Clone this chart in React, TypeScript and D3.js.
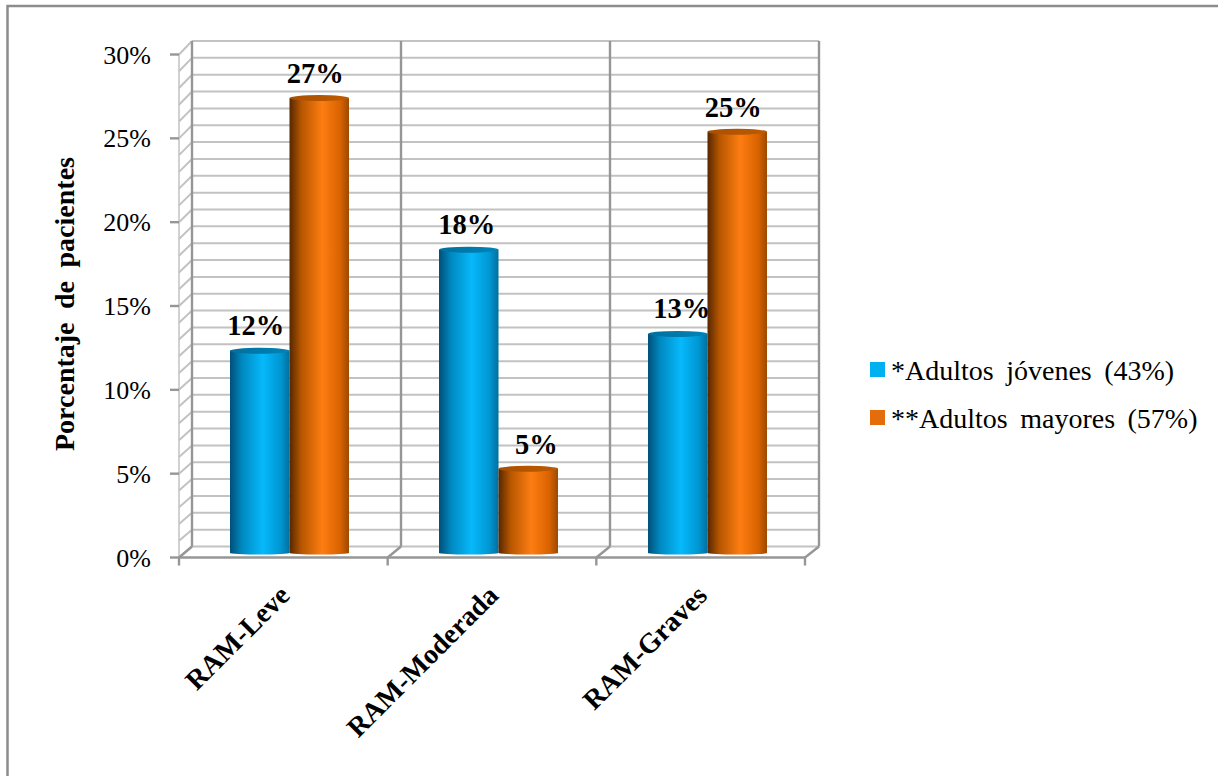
import React from "react";
import * as d3 from "d3";

const categories = ["RAM-Leve", "RAM-Moderada", "RAM-Graves"];
const youngValues = [12, 18, 13];
const olderValues = [27, 5, 25];
const seriesNames = ["*Adultos jóvenes (43%)", "**Adultos mayores (57%)"];
const axisTicks = [0, 5, 10, 15, 20, 25, 30];
const gridValues = d3.range(0, 31);
const serif = "'Liberation Serif', 'Times New Roman', serif";

const W = 1218, H = 776;
const yFront = d3.scaleLinear().domain([0, 30]).range([557.5, 54.5]);
const yBack = d3.scaleLinear().domain([0, 30]).range([546.5, 41]);
const yBar = d3.scaleLinear().domain([0, 30]).range([553, 47.5]);
const xFront = d3.scaleBand<number>().domain([0, 1, 2]).range([179, 805]);
const xBack = d3.scaleBand<number>().domain([0, 1, 2]).range([192, 819]);
const barW = 59.5;
const youngLabelShift = [-4, -2, 4];
const olderLabelShift = [-4, 8, -4];

function Cyl({ x, v, fill }: { x: number; v: number; fill: string }) {
  const top = yBar(v), bot = yBar(0), rx = barW / 2, ry = 3;
  return (
    <g>
      <path
        d={`M${x},${top} L${x},${bot} A${rx},1.5 0 0 0 ${x + barW},${bot} L${x + barW},${top} Z`}
        fill={`url(#${fill})`}
      />
      <ellipse cx={x + rx} cy={top} rx={rx} ry={ry} fill={`url(#${fill}Top)`} />
    </g>
  );
}

export default function App() {
  const grid = "#c2c2c2", axis = "#969696";
  return (
    <svg width={W} height={H} style={{ position: "absolute", left: 0, top: 0, background: "#fff" }}>
      <defs>
        <linearGradient id="blue">
          <stop offset="0" stopColor="#004f78" />
          <stop offset="0.2" stopColor="#0088c0" />
          <stop offset="0.55" stopColor="#06b9fb" />
          <stop offset="0.85" stopColor="#0096d2" />
          <stop offset="1" stopColor="#006f9e" />
        </linearGradient>
        <linearGradient id="orange">
          <stop offset="0" stopColor="#562700" />
          <stop offset="0.2" stopColor="#b65600" />
          <stop offset="0.55" stopColor="#fd7d12" />
          <stop offset="0.85" stopColor="#d96300" />
          <stop offset="1" stopColor="#9c4a00" />
        </linearGradient>
        <linearGradient id="blueTop">
          <stop offset="0" stopColor="#006f9e" />
          <stop offset="1" stopColor="#0084b8" />
        </linearGradient>
        <linearGradient id="orangeTop">
          <stop offset="0" stopColor="#a85000" />
          <stop offset="1" stopColor="#bf5a00" />
        </linearGradient>
      </defs>

      <path d="M7.5,776 L7.5,6 L1218,6" fill="none" stroke="#8c8c8c" strokeWidth={2.5} />

      {gridValues.map((v) => (
        <g key={v} stroke={grid} strokeWidth={2}>
          <line x1={192} x2={819} y1={yBack(v)} y2={yBack(v)} />
          <line x1={179} x2={192} y1={yFront(v)} y2={yBack(v)} />
        </g>
      ))}
      <line x1={179} x2={179} y1={yFront(30)} y2={yFront(0)} stroke={grid} strokeWidth={1.5} />
      {[0, 1, 2, 3].map((i) => {
        const xb = 192 + i * xBack.step();
        const xf = 179 + i * xFront.step();
        return (
          <g key={i} stroke={axis} strokeWidth={2.4}>
            <line x1={xb} x2={xb} y1={yBack(30)} y2={yBack(0)} stroke={axis} />
            <line x1={xf} x2={xb} y1={yFront(0)} y2={yBack(0)} />
            <line x1={xf} x2={xf} y1={yFront(0)} y2={yFront(0) + 8} />
          </g>
        );
      })}
      <line x1={179} x2={805} y1={yFront(0)} y2={yFront(0)} stroke={axis} strokeWidth={2.4} />

      {axisTicks.map((t) => (
        <g key={t}>
          <line x1={170} x2={179} y1={yFront(t)} y2={yFront(t)} stroke={axis} strokeWidth={2.4} />
          <text x={151} y={yFront(t) + 9} textAnchor="end" fontFamily={serif} fontSize={26} fill="#000">
            {t}%
          </text>
        </g>
      ))}

      {categories.map((c, i) => {
        const x0 = 230 + i * xBack.step();
        const xy = x0, xo = x0 + barW;
        return (
          <g key={c}>
            <Cyl x={xy} v={youngValues[i]} fill="blue" />
            <Cyl x={xo} v={olderValues[i]} fill="orange" />
            <text x={xy + barW / 2 + youngLabelShift[i]} y={yBar(youngValues[i]) - 16} textAnchor="middle" fontFamily={serif} fontWeight="bold" fontSize={28.5} fill="#000">
              {youngValues[i]}%
            </text>
            <text x={xo + barW / 2 + olderLabelShift[i]} y={yBar(olderValues[i]) - 15} textAnchor="middle" fontFamily={serif} fontWeight="bold" fontSize={28.5} fill="#000">
              {olderValues[i]}%
            </text>
            <text
              transform={`translate(${(xFront(i) as number) + xFront.bandwidth() / 2 + 8},${597}) rotate(-45)`}
              textAnchor="end"
              fontFamily={serif}
              fontWeight="bold"
              fontSize={28}
              fill="#000"
            >
              {c}
            </text>
          </g>
        );
      })}

      <text
        transform="translate(74,304) rotate(-90)"
        textAnchor="middle"
        fontFamily={serif}
        fontWeight="bold"
        fontSize={28}
        wordSpacing={6.5}
        fill="#000"
      >
        Porcentaje de pacientes
      </text>

      {seriesNames.map((s, i) => (
        <g key={s}>
          <rect x={870} y={362 + i * 48} width={15} height={15} fill={i === 0 ? "#00b0f0" : "#e46c0a"} />
          <text x={891} y={380 + i * 48} fontFamily={serif} fontSize={28} wordSpacing={5.5} fill="#000">
            {s}
          </text>
        </g>
      ))}
    </svg>
  );
}
